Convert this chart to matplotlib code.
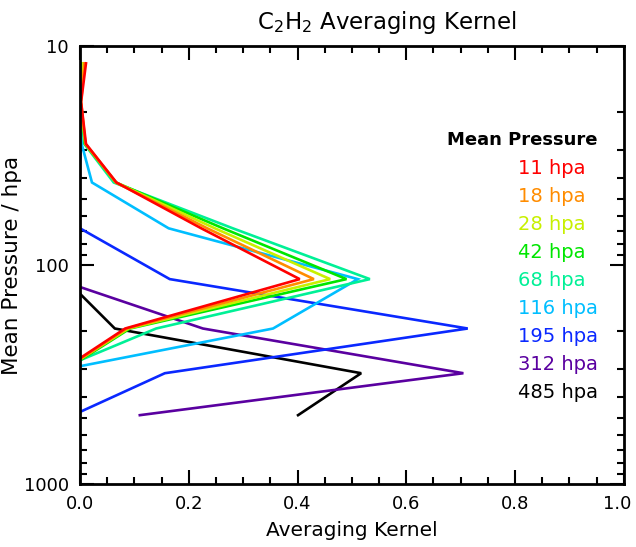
import matplotlib
matplotlib.use('Agg')
import matplotlib.pyplot as plt
from matplotlib.ticker import FixedLocator, NullFormatter, MultipleLocator
from matplotlib.transforms import ScaledTranslation

# pressure grid (hpa) of the kernel rows
pressure = [12, 18, 28, 42, 68, 116, 195, 312, 485]

# one averaging kernel row per mean pressure level
ak_11 = [0.011, 0.002, 0.011, 0.067, 0.223, 0.404, 0.083, -0.042, -0.02]
ak_18 = [0.008, 0.002, 0.010, 0.066, 0.234, 0.430, 0.086, -0.039, -0.02]
ak_28 = [0.006, 0.001, 0.010, 0.066, 0.248, 0.460, 0.089, -0.040, -0.02]
ak_42 = [0.004, 0.001, 0.009, 0.066, 0.263, 0.490, 0.092, -0.037, -0.02]
ak_68 = [0.002, 0.001, 0.008, 0.062, 0.281, 0.533, 0.140, -0.057, -0.02]
ak_116 = [0.0, 0.001, 0.003, 0.022, 0.163, 0.511, 0.355, -0.066, -0.02]
ak_195 = [-0.01, -0.01, -0.01, -0.01, 0.0, 0.165, 0.713, 0.156, -0.013]
ak_312 = [-0.005, 0.0, 0.002, -0.003, -0.02, -0.043, 0.226, 0.705, 0.110]
ak_485 = [-0.01, -0.01, -0.01, -0.01, -0.01, -0.027, 0.064, 0.517, 0.401]

labels = ['11 hpa', '18 hpa', '28 hpa', '42 hpa', '68 hpa',
          '116 hpa', '195 hpa', '312 hpa', '485 hpa']
kernels = [ak_11, ak_18, ak_28, ak_42, ak_68, ak_116, ak_195, ak_312, ak_485]
colors = ['#ff0000', '#ff8c00', '#c8f000', '#00e600', '#00f096',
          '#00beff', '#0a28ff', '#5a00a0', '#000000']

plt.rcParams['font.family'] = ['DejaVu Sans']
plt.rcParams['xtick.direction'] = 'in'
plt.rcParams['ytick.direction'] = 'in'
plt.rcParams['xtick.top'] = True
plt.rcParams['ytick.right'] = True

fig = plt.figure(figsize=(6.36, 5.47), dpi=100)
ax = fig.add_axes([0.1258, 0.1152, 0.855, 0.8007])

# draw from the bottom level up so the red line sits on top
for k, c in reversed(list(zip(kernels, colors))):
    ax.plot(k, pressure, color=c, lw=1.9, solid_joinstyle='miter')

ax.set_yscale('log')
ax.set_ylim(1000, 10)
ax.set_xlim(0, 1)

ax.xaxis.set_minor_locator(MultipleLocator(0.05))
ax.set_xticks([0, 0.2, 0.4, 0.6, 0.8, 1.0])
ax.set_xticklabels(['0.0', '0.2', '0.4', '0.6', '0.8', '1.0'])
ax.yaxis.set_major_locator(FixedLocator([10, 100, 1000]))
ax.set_yticklabels(['10', '100', '1000'])
ax.yaxis.set_minor_formatter(NullFormatter())

ax.tick_params(which='major', length=10, width=1.5, labelsize=13, pad=8)
ax.tick_params(which='minor', length=5, width=1.5)
for s in ax.spines.values():
    s.set_linewidth(2)

# keep the last x label inside the figure
last = ax.get_xticklabels()[-1]
last.set_transform(last.get_transform() +
                   ScaledTranslation(-5 / 72, 0, fig.dpi_scale_trans))

ax.set_xlabel('Averaging Kernel', fontsize=14.5, labelpad=6)
ax.set_ylabel('Mean Pressure / hpa', fontsize=15.5)
ax.yaxis.set_label_coords(-58 / 544, 0.5)
fig.text(387 / 636, 1 - 22 / 547, 'C$_2$H$_2$ Averaging Kernel',
         ha='center', va='center', fontsize=16.5)

# legend as plain text, IDL style
fig.text(447 / 636, 1 - 140 / 547, 'Mean Pressure', fontsize=13,
         fontweight='bold', va='center', ha='left')
for i, (lab, c) in enumerate(zip(labels, colors)):
    fig.text(518 / 636, 1 - (168 + 28.1 * i) / 547, lab, color=c,
             fontsize=14, va='center', ha='left')

fig.savefig('out.png', dpi=100)
